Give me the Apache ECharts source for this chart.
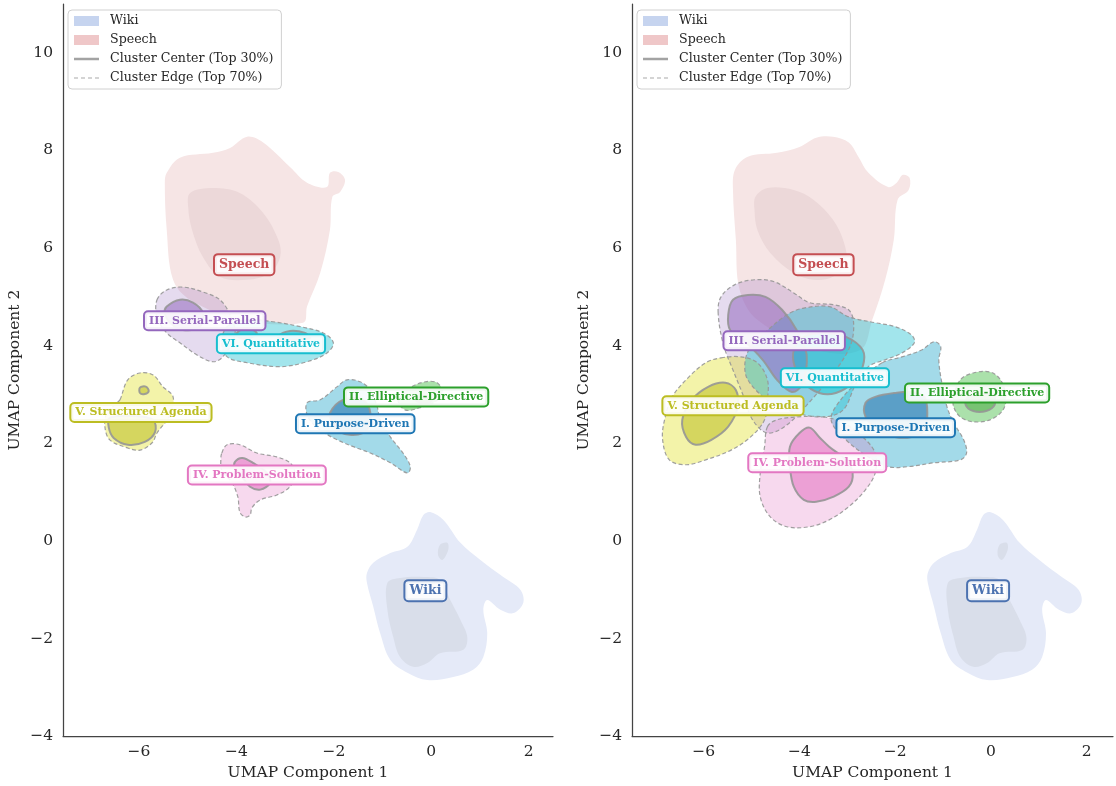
<!DOCTYPE html>
<html>
<head>
<meta charset="utf-8">
<script src="https://cdn.jsdelivr.net/npm/echarts@6/dist/echarts.min.js"></script>
<style>html,body{margin:0;padding:0;background:#fff}#c{width:1116px;height:786px}</style>
</head>
<body>
<div id="c"></div>
<script>
// ---------- DATA (UMAP coordinates) ----------
const X_TITLE = 'UMAP Component 1';
const Y_TITLE = 'UMAP Component 2';
const LEGEND_NAMES = ['Wiki', 'Speech', 'Cluster Center (Top 30%)', 'Cluster Edge (Top 70%)'];
const LABEL_NAMES = ['Speech', 'Wiki', 'I. Purpose-Driven', 'II. Elliptical-Directive', 'III. Serial-Parallel',
  'IV. Problem-Solution', 'V. Structured Agenda', 'VI. Quantitative'];
const L_labelPos = [[-3.84, 5.66], [-0.12, -1.02], [-1.56, 2.40], [-0.31, 2.95], [-4.65, 4.51], [-3.58, 1.35], [-5.96, 2.63], [-3.29, 4.04]];
const R_labelPos = [[-3.50, 5.66], [-0.06, -1.02], [-1.99, 2.32], [-0.29, 3.03], [-4.32, 4.10], [-3.63, 1.60], [-5.39, 2.77], [-3.26, 3.34]];

// Wiki (same in both panels)
const wikiOuter = [[-1.32,-0.66],[-1.19,-0.45],[-0.84,-0.25],[-0.49,-0.12],[-0.29,0.23],[-0.16,0.53],[-0.02,0.59],[0.25,0.43],[0.60,-0.04],[1.01,-0.39],[1.48,-0.74],[1.83,-1.00],[1.89,-1.27],[1.69,-1.48],[1.42,-1.41],[1.15,-1.21],[1.07,-1.41],[1.15,-1.89],[1.07,-2.38],[0.86,-2.64],[0.45,-2.79],[-0.08,-2.85],[-0.49,-2.70],[-0.84,-2.44],[-1.05,-1.89],[-1.19,-1.35],[-1.32,-0.86]];
const wikiInner = [[-0.90,-0.86],[-0.64,-0.76],[-0.16,-0.74],[0.18,-0.80],[0.39,-1.21],[0.60,-1.62],[0.74,-1.97],[0.66,-2.23],[0.18,-2.30],[-0.08,-2.50],[-0.37,-2.58],[-0.64,-2.38],[-0.78,-1.97],[-0.90,-1.41]];
const wikiInner2 = [[0.18,-0.08],[0.33,-0.04],[0.35,-0.18],[0.23,-0.39],[0.14,-0.29]];

// Left panel
const L_speechOuter = [[-5.47,7.34],[-5.43,6.37],[-5.30,5.35],[-4.95,4.94],[-3.93,4.53],[-2.63,4.47],[-2.55,4.80],[-2.28,5.49],[-2.08,6.37],[-2.03,7.05],[-1.87,7.15],[-1.77,7.40],[-1.91,7.56],[-2.08,7.54],[-2.14,7.25],[-2.55,7.34],[-2.90,7.66],[-3.45,8.16],[-3.78,8.28],[-4.13,8.05],[-4.48,7.95],[-5.16,7.85],[-5.43,7.54]];
const L_speechInner = [[-4.95,7.13],[-4.48,7.23],[-3.93,7.13],[-3.45,6.72],[-3.14,6.17],[-3.10,5.82],[-3.31,5.49],[-3.78,5.35],[-4.34,5.41],[-4.69,5.82],[-4.91,6.37],[-4.99,6.84]];
const L_c1Outer = [[-2.55,2.83],[-2.28,2.89],[-1.93,3.16],[-1.73,3.30],[-1.46,3.26],[-1.25,3.09],[-1.11,2.75],[-1.05,2.48],[-0.84,2.13],[-0.58,1.80],[-0.43,1.52],[-0.49,1.39],[-0.84,1.60],[-1.25,1.80],[-1.60,1.93],[-1.93,2.07],[-2.28,2.27],[-2.53,2.54]];
const L_c1Inner = [[-2.08,2.62],[-1.81,2.89],[-1.40,2.89],[-1.25,2.62],[-1.32,2.27],[-1.60,2.17],[-1.87,2.23],[-2.03,2.42]];
const L_c2Outer = [[-0.68,2.89],[-0.43,3.14],[-0.12,3.26],[0.12,3.24],[0.23,3.05],[0.08,2.85],[-0.23,2.73],[-0.53,2.68]];
const L_c2Inner = [[-0.33,2.89],[-0.12,2.97],[0.02,2.89],[-0.12,2.81]];
const L_c3Outer = [[-5.63,4.94],[-5.43,5.14],[-5.10,5.20],[-4.69,5.10],[-4.34,4.94],[-4.13,4.63],[-4.03,4.22],[-4.28,3.77],[-4.48,3.67],[-4.81,3.81],[-5.16,4.06],[-5.43,4.26],[-5.63,4.59]];
const L_c3Inner = [[-5.43,4.80],[-5.16,4.94],[-4.89,4.88],[-4.69,4.67],[-4.75,4.39],[-5.10,4.32],[-5.36,4.47],[-5.47,4.67]];
const L_c4Outer = [[-4.30,1.80],[-4.19,1.97],[-3.93,1.97],[-3.58,1.80],[-3.17,1.72],[-2.90,1.60],[-2.80,1.39],[-2.90,1.11],[-3.17,0.94],[-3.51,0.84],[-3.68,0.68],[-3.72,0.53],[-3.82,0.49],[-3.93,0.59],[-3.97,0.90],[-4.09,1.19],[-4.30,1.45],[-4.32,1.66]];
const L_c4Inner = [[-4.03,1.62],[-3.88,1.70],[-3.66,1.60],[-3.37,1.39],[-3.31,1.19],[-3.51,1.05],[-3.72,1.11],[-3.88,1.31],[-4.03,1.50]];
const L_c5Outer = [[-6.39,2.89],[-6.23,3.30],[-5.98,3.44],[-5.71,3.40],[-5.51,3.16],[-5.30,2.95],[-5.36,2.58],[-5.63,2.21],[-5.73,2.01],[-5.98,1.86],[-6.25,1.91],[-6.60,2.07],[-6.70,2.34],[-6.66,2.62],[-6.45,2.83]];
const L_c5Inner = [[-6.60,2.52],[-6.13,2.56],[-5.71,2.48],[-5.67,2.23],[-5.88,2.03],[-6.23,1.97],[-6.52,2.11],[-6.62,2.32]];
const L_c5Inner2 = [[-5.98,3.14],[-5.86,3.16],[-5.80,3.07],[-5.88,3.01],[-5.98,3.03]];
const L_c6Outer = [[-4.19,4.39],[-3.78,4.53],[-3.25,4.49],[-2.69,4.39],[-2.22,4.26],[-2.01,4.06],[-2.14,3.85],[-2.55,3.67],[-3.10,3.57],[-3.78,3.65],[-4.19,3.77],[-4.30,4.06]];
const L_c6Inner = [[-3.99,4.26],[-3.78,4.36],[-3.58,4.26],[-3.72,4.16],[-3.93,4.16]];
const L_c6Inner2 = [[-3.14,4.20],[-2.90,4.30],[-2.59,4.26],[-2.49,4.16],[-2.80,4.12],[-3.10,4.12]];

// Right panel
const R_speechOuter = [[-5.35,7.60],[-5.08,7.87],[-4.47,7.95],[-4.00,8.07],[-3.65,8.26],[-3.30,8.28],[-2.97,8.16],[-2.77,7.87],[-2.56,7.54],[-2.15,7.25],[-1.97,7.34],[-1.84,7.50],[-1.70,7.44],[-1.72,7.19],[-1.95,6.99],[-2.03,6.17],[-2.21,5.35],[-2.48,4.53],[-2.73,3.91],[-3.65,3.91],[-4.88,4.53],[-5.25,5.14],[-5.33,6.17],[-5.39,7.19]];
const R_speechInner = [[-4.92,7.05],[-4.67,7.23],[-4.12,7.19],[-3.71,6.99],[-3.30,6.58],[-3.07,6.11],[-3.03,5.70],[-3.30,5.41],[-3.71,5.35],[-4.12,5.49],[-4.61,5.90],[-4.88,6.37],[-4.94,6.78]];
const R_c1Outer = [[-2.27,3.65],[-1.86,3.77],[-1.45,3.91],[-1.19,4.08],[-1.05,3.98],[-1.09,3.71],[-1.02,3.20],[-0.92,2.75],[-0.78,2.42],[-0.57,2.07],[-0.51,1.80],[-0.64,1.66],[-1.19,1.60],[-1.74,1.52],[-2.15,1.52],[-2.56,1.72],[-3.03,2.07],[-3.34,2.48],[-3.14,2.89],[-2.73,3.30]];
const R_c1Inner = [[-2.62,2.83],[-2.42,2.95],[-2.01,3.03],[-1.66,3.05],[-1.39,2.95],[-1.33,2.62],[-1.39,2.27],[-1.66,2.13],[-2.01,2.13],[-2.36,2.27],[-2.62,2.54]];
const R_c2Outer = [[-0.78,2.95],[-0.64,3.30],[-0.37,3.44],[-0.02,3.46],[0.20,3.30],[0.31,2.95],[0.25,2.68],[-0.02,2.48],[-0.37,2.44],[-0.64,2.54],[-0.78,2.75]];
const R_c2Inner = [[-0.47,2.95],[0.04,2.99],[0.08,2.79],[-0.10,2.66],[-0.37,2.66],[-0.53,2.79]];
const R_c3Outer = [[-5.70,4.67],[-5.64,5.00],[-5.35,5.25],[-4.94,5.35],[-4.53,5.31],[-4.12,5.08],[-3.79,4.88],[-3.30,4.84],[-2.97,4.73],[-2.87,4.47],[-2.93,4.02],[-3.24,3.50],[-3.75,2.89],[-4.26,2.38],[-4.67,2.21],[-4.98,2.48],[-5.18,2.99],[-5.39,3.50],[-5.59,4.02]];
const R_c3Inner = [[-5.49,4.63],[-5.39,4.94],[-5.08,5.04],[-4.71,5.00],[-4.36,4.73],[-4.06,4.32],[-3.85,3.81],[-3.95,3.20],[-4.16,3.05],[-4.47,3.30],[-4.77,3.71],[-5.18,4.12],[-5.45,4.32]];
const R_c4Outer = [[-4.67,2.34],[-4.47,2.48],[-4.06,2.54],[-3.50,2.54],[-3.09,2.42],[-2.68,2.13],[-2.42,1.80],[-2.42,1.39],[-2.62,1.05],[-2.97,0.70],[-3.38,0.43],[-3.79,0.29],[-4.26,0.29],[-4.61,0.49],[-4.82,0.90],[-4.82,1.39],[-4.73,1.93]];
const R_c4Inner = [[-4.20,1.93],[-4.00,2.21],[-3.79,2.32],[-3.59,2.13],[-3.38,1.93],[-3.03,1.66],[-2.89,1.39],[-2.97,1.11],[-3.30,0.90],[-3.65,0.80],[-3.91,0.84],[-4.12,1.11],[-4.20,1.52]];
const R_c5Outer = [[-5.64,3.75],[-5.23,3.77],[-4.88,3.65],[-4.67,3.30],[-4.67,2.89],[-4.73,2.48],[-5.02,2.13],[-5.43,1.86],[-5.96,1.66],[-6.37,1.56],[-6.72,1.66],[-6.86,2.07],[-6.82,2.48],[-6.66,2.95],[-6.31,3.36],[-5.96,3.65]];
const R_c5Inner = [[-6.45,2.48],[-6.25,2.89],[-5.90,3.16],[-5.55,3.24],[-5.33,3.09],[-5.29,2.75],[-5.49,2.34],[-5.84,2.07],[-6.17,1.97],[-6.37,2.13]];
const R_c6Outer = [[-4.20,4.67],[-3.91,4.77],[-3.38,4.80],[-2.97,4.59],[-2.42,4.47],[-2.01,4.39],[-1.66,4.22],[-1.60,4.06],[-1.86,3.85],[-2.21,3.71],[-2.56,3.57],[-2.83,3.20],[-3.09,2.68],[-3.50,2.54],[-4.06,2.62],[-4.67,2.89],[-5.08,3.30],[-5.14,3.65],[-5.02,3.98],[-4.73,4.26],[-4.41,4.53]];
const R_c6Inner = [[-4.12,3.91],[-3.91,4.18],[-3.50,4.26],[-3.03,4.18],[-2.68,3.91],[-2.68,3.57],[-2.89,3.24],[-3.24,3.03],[-3.59,3.03],[-3.91,3.24],[-4.10,3.57]];

// ---------- STYLE ----------
const FONT = 'DejaVu Serif';
const LABEL_COLORS = ['#c44e52', '#4c72b0', '#1f77b4', '#2ca02c', '#9467bd', '#e377c2', '#bcbd22', '#17becf'];
const CL_OUT = ['rgba(25,162,200,0.40)', 'rgba(44,180,44,0.40)', 'rgba(148,103,189,0.24)', 'rgba(227,119,194,0.28)', 'rgba(225,225,40,0.40)', 'rgba(23,190,207,0.40)'];
const CL_IN = ['rgba(20,100,165,0.50)', 'rgba(70,166,60,0.50)', 'rgba(148,103,189,0.55)', 'rgba(227,119,194,0.58)', 'rgba(188,189,34,0.55)', 'rgba(23,190,207,0.55)'];

const series = [];
function poly(gi, pts, style) {
  series.push({
    type: 'custom', xAxisIndex: gi, yAxisIndex: gi, silent: true, data: pts,
    renderItem: function (params, api) {
      if (params.dataIndex !== 0) return null;
      return { type: 'polygon', shape: { points: pts.map(p => api.coord(p)), smooth: 0.35 }, style: Object.assign({}, style) };
    }
  });
}
function panel(gi, P) {
  poly(gi, P.speechOuter, { fill: '#f6e5e5' });
  poly(gi, P.speechInner, { fill: '#ecd8d9' });
  poly(gi, wikiOuter, { fill: '#e5eaf8' });
  poly(gi, wikiInner, { fill: '#d9deea' });
  poly(gi, wikiInner2, { fill: '#d9deea' });
  P.clusters.forEach((c, i) => poly(gi, c.outer, { fill: CL_OUT[i] }));
  P.clusters.forEach((c, i) => c.inner.forEach(q => poly(gi, q, { fill: CL_IN[i] })));
  P.clusters.forEach(c => poly(gi, c.outer, { fill: 'none', stroke: 'rgba(150,150,150,0.9)', lineWidth: 1.2, lineDash: [4, 2.5] }));
  P.clusters.forEach(c => c.inner.forEach(q => poly(gi, q, { fill: 'none', stroke: 'rgba(150,150,150,0.9)', lineWidth: 2 })));
  // labels (text boxes at cluster centres)
  const pos = P.labels;
  series.push({
    type: 'custom', xAxisIndex: gi, yAxisIndex: gi, silent: true, z: 10, data: pos,
    renderItem: function (params, api) {
      const i = params.dataIndex;
      const c = api.coord([api.value(0), api.value(1)]);
      const big = i < 2;
      return {
        type: 'text', x: c[0], y: c[1],
        style: {
          text: LABEL_NAMES[i], fill: LABEL_COLORS[i], align: 'center', verticalAlign: 'middle',
          font: 'bold ' + (big ? 12.5 : 11) + 'px "' + FONT + '"', lineHeight: big ? 15 : 13,
          backgroundColor: 'rgba(255,255,255,0.9)', borderColor: LABEL_COLORS[i], borderWidth: 2, borderRadius: 3,
          padding: [2, 4]
        }
      };
    }
  });
}
panel(0, {
  speechOuter: L_speechOuter, speechInner: L_speechInner, labels: L_labelPos,
  clusters: [
    { outer: L_c1Outer, inner: [L_c1Inner] }, { outer: L_c2Outer, inner: [L_c2Inner] },
    { outer: L_c3Outer, inner: [L_c3Inner] }, { outer: L_c4Outer, inner: [L_c4Inner] },
    { outer: L_c5Outer, inner: [L_c5Inner, L_c5Inner2] }, { outer: L_c6Outer, inner: [L_c6Inner, L_c6Inner2] }
  ]
});
panel(1, {
  speechOuter: R_speechOuter, speechInner: R_speechInner, labels: R_labelPos,
  clusters: [
    { outer: R_c1Outer, inner: [R_c1Inner] }, { outer: R_c2Outer, inner: [R_c2Inner] },
    { outer: R_c3Outer, inner: [R_c3Inner] }, { outer: R_c4Outer, inner: [R_c4Inner] },
    { outer: R_c5Outer, inner: [R_c5Inner] }, { outer: R_c6Outer, inner: [R_c6Inner] }
  ]
});
// legend-only series
LEGEND_NAMES.forEach(n => series.push({ type: 'custom', name: n, data: [], renderItem: () => null, xAxisIndex: 0, yAxisIndex: 0 }));

const legendData = [
  { name: LEGEND_NAMES[0], icon: 'rect', itemStyle: { color: '#c6d4ef' } },
  { name: LEGEND_NAMES[1], icon: 'rect', itemStyle: { color: '#efc7c8' } },
  { name: LEGEND_NAMES[2], icon: 'path://M0,0H26V2.6H0Z', itemStyle: { color: '#a3a3a3' } },
  { name: LEGEND_NAMES[3], icon: 'path://M0,0H4V1H0Z M7,0H11V1H7Z M14,0H18V1H14Z M21,0H25V1H21Z', itemStyle: { color: '#aaaaaa' } }
];
function legend(left) {
  return {
    left: left, top: 10, orient: 'vertical', data: legendData, selectedMode: false,
    itemWidth: 25, itemHeight: 10, itemGap: 5, padding: [4, 8, 4, 6],
    borderColor: '#d0d0d0', borderWidth: 1, borderRadius: 4, backgroundColor: 'rgba(255,255,255,0.85)',
    textStyle: { fontFamily: FONT, fontSize: 12.6, color: '#262626', lineHeight: 14, padding: [0, 0, 0, 6] }
  };
}
function fmt(v) {
  const r = Math.round(v);
  if (Math.abs(v - r) > 1e-6 || r % 2 !== 0) return '';
  return String(r).replace('-', '\u2212');
}
function xAxis(gi, min, max) {
  return {
    type: 'value', gridIndex: gi, min: min, max: max, splitNumber: 5,
    name: X_TITLE, nameLocation: 'middle', nameGap: 27,
    nameTextStyle: { fontFamily: FONT, fontSize: 15.5, color: '#262626' },
    axisLine: { show: true, onZero: false, lineStyle: { color: '#444', width: 1.25 } },
    axisTick: { show: false }, splitLine: { show: false },
    axisLabel: { fontFamily: FONT, fontSize: 15.5, color: '#262626', margin: 8, formatter: fmt }
  };
}
function yAxis(gi) {
  return {
    type: 'value', gridIndex: gi, min: -4, max: 11, interval: 2,
    name: Y_TITLE, nameLocation: 'middle', nameGap: 40,
    nameTextStyle: { fontFamily: FONT, fontSize: 15.5, color: '#262626' },
    axisLine: { show: true, onZero: false, lineStyle: { color: '#444', width: 1.25 } },
    axisTick: { show: false }, splitLine: { show: false },
    axisLabel: { fontFamily: FONT, fontSize: 15.5, color: '#262626', margin: 10, formatter: fmt }
  };
}

const chart = echarts.init(document.getElementById('c'), null, { renderer: 'canvas' });
chart.setOption({
  animation: false,
  backgroundColor: '#fff',
  grid: [
    { left: 63, top: 4, width: 490, height: 733 },
    { left: 632, top: 4, width: 490, height: 733 }
  ],
  xAxis: [xAxis(0, -7.56, 2.5), xAxis(1, -7.5, 2.55)],
  yAxis: [yAxis(0), yAxis(1)],
  legend: [legend(68), legend(637)],
  series: series
});
</script>
</body>
</html>
